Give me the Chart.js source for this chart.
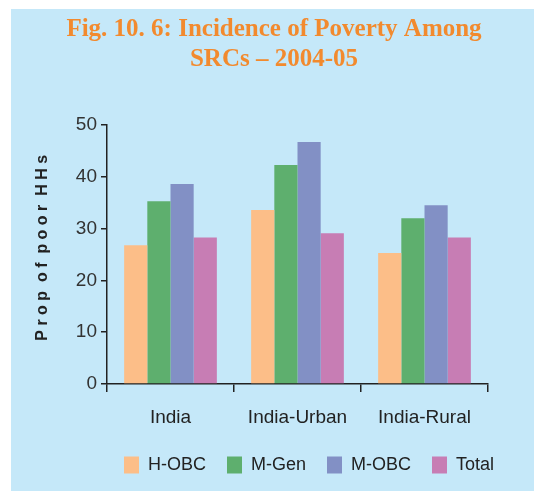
<!DOCTYPE html>
<html>
<head>
<meta charset="utf-8">
<script src="https://cdn.jsdelivr.net/npm/chart.js@4"></script>
<style>
  body { margin: 0; background: #fff; }
  #panel { position: absolute; left: 11px; top: 9px; width: 523px; height: 482px; background: #c5e8f9; }
</style>
</head>
<body>
<div id="panel"><canvas id="the-graph" width="523" height="482"></canvas></div>
<script>
var categories = ['India', 'India-Urban', 'India-Rural'];
var hObc  = [26.8, 33.6, 25.3];
var mGen  = [35.3, 42.3, 32.0];
var mObc  = [38.6, 46.7, 34.5];
var total = [28.3, 29.1, 28.3];
var yTicks = [0, 10, 20, 30, 40, 50];

var series = [
  { label: 'H-OBC', data: hObc,  color: '#fcbe88' },
  { label: 'M-Gen', data: mGen,  color: '#5eaf6e' },
  { label: 'M-OBC', data: mObc,  color: '#8290c5' },
  { label: 'Total', data: total, color: '#c77db4' }
];

var axisColor = '#222';

var chart = new Chart(document.getElementById('the-graph'), {
  type: 'bar',
  data: {
    labels: categories,
    datasets: series.map(function (s) {
      return {
        label: s.label,
        data: s.data,
        backgroundColor: s.color,
        borderWidth: 0,
        categoryPercentage: 0.73,
        barPercentage: 1
      };
    })
  },
  options: {
    responsive: false,
    animation: false,
    layout: { padding: { left: 22, right: 19, top: 0, bottom: 7 } },
    plugins: {
      tooltip: { enabled: false },
      title: {
        display: true,
        text: ['Fig. 10. 6: Incidence of Poverty Among', 'SRCs \u2013 2004-05'],
        color: '#f28a2e',
        font: { family: 'Liberation Serif', size: 25, weight: 'bold', lineHeight: 1.2 },
        padding: { top: 6, bottom: 50 }
      },
      legend: {
        position: 'bottom',
        align: 'end',
        labels: {
          boxWidth: 15,
          boxHeight: 17,
          padding: 21,
          color: '#222',
          font: { family: 'Liberation Sans', size: 18 }
        }
      }
    },
    scales: {
      x: {
        afterFit: function (scale) { scale.height = 51; },
        grid: {
          display: true,
          drawOnChartArea: false,
          offset: true,
          tickLength: 8,
          color: axisColor,
          lineWidth: 1.5
        },
        border: { color: axisColor, width: 1.5 },
        ticks: {
          color: '#222',
          padding: 14,
          font: { family: 'Liberation Sans', size: 19 }
        }
      },
      y: {
        min: 0,
        max: 50,
        afterBuildTicks: function (scale) {
          scale.ticks = yTicks.map(function (v) { return { value: v }; });
        },
        afterFit: function (scale) { scale.width = 74; },
        grid: {
          display: true,
          drawOnChartArea: false,
          tickLength: 6,
          color: axisColor,
          lineWidth: 1.5
        },
        border: { color: axisColor, width: 1.5 },
        ticks: {
          color: '#333',
          padding: 4,
          font: { family: 'Liberation Sans', size: 19 }
        },
        title: {
          display: true,
          text: '   P r o p  o f  p o o r  H H s',
          color: '#222',
          font: { family: 'Liberation Sans', size: 16, weight: 'bold' },
          padding: 0
        }
      },
      // empty right-hand spacer so the plot ends where the original does
      spacer: {
        position: 'right',
        display: true,
        afterFit: function (scale) { scale.width = 27; },
        grid: { display: false },
        border: { display: false },
        ticks: { display: false }
      }
    }
  }
});
</script>
</body>
</html>
